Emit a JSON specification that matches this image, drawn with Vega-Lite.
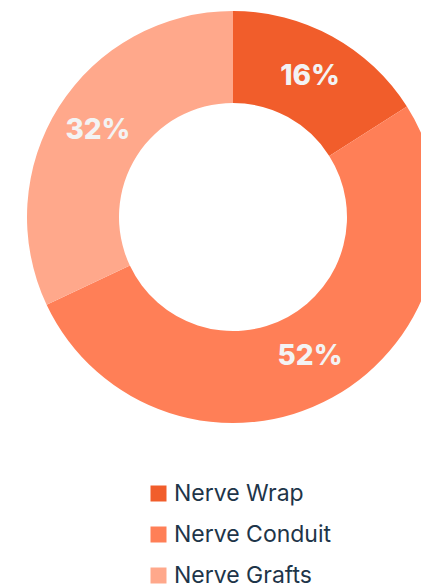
{
  "$schema": "https://vega.github.io/schema/vega-lite/v6.json",
  "width": 466,
  "height": 434,
  "padding": {"left": 0, "top": 0, "right": 0, "bottom": 151},
  "autosize": {"type": "none"},
  "background": "white",
  "view": {"stroke": null},
  "data": {
    "values": [
      {"category": "Nerve Wrap", "value": 16, "label": "16%", "order": 1},
      {"category": "Nerve Conduit", "value": 52, "label": "52%", "order": 2},
      {"category": "Nerve Grafts", "value": 32, "label": "32%", "order": 3}
    ]
  },
  "encoding": {
    "theta": {"field": "value", "type": "quantitative", "stack": true},
    "order": {"field": "order", "type": "quantitative"}
  },
  "layer": [
    {
      "mark": {"type": "arc", "outerRadius": 206, "innerRadius": 114},
      "encoding": {
        "color": {
          "field": "category",
          "type": "nominal",
          "sort": ["Nerve Wrap", "Nerve Conduit", "Nerve Grafts"],
          "scale": {
            "domain": ["Nerve Wrap", "Nerve Conduit", "Nerve Grafts"],
            "range": ["#F15D2B", "#FF7F57", "#FFA88B"]
          },
          "legend": {
            "title": null,
            "orient": "none",
            "legendX": 147,
            "legendY": 482,
            "symbolType": "square",
            "symbolSize": 256,
            "symbolStrokeWidth": 0,
            "labelFont": "Inter",
            "labelFontSize": 23,
            "labelColor": "#1E3549",
            "labelOffset": 4,
            "rowPadding": 17,
            "labelLimit": 300
          }
        }
      }
    },
    {
      "mark": {"type": "text", "radius": 160, "font": "Inter", "fontSize": 28, "fontWeight": 800, "color": "#F3F3F3", "baseline": "middle", "align": "center"},
      "encoding": {"text": {"field": "label"}}
    }
  ]
}
